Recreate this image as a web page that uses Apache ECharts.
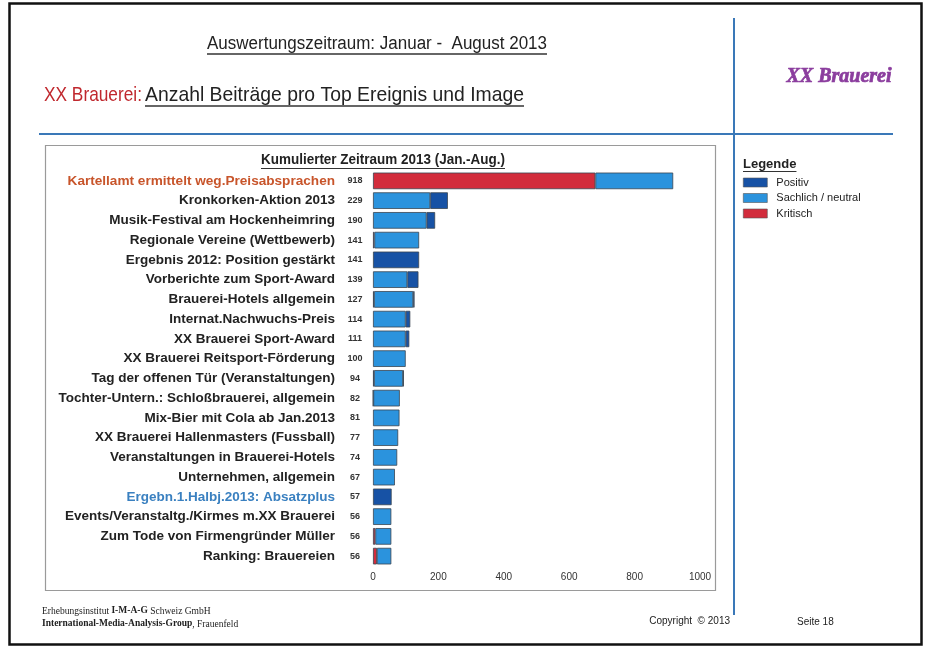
<!DOCTYPE html>
<html>
<head>
<meta charset="utf-8">
<script src="https://cdn.jsdelivr.net/npm/echarts@6/dist/echarts.min.js"></script>
<style>
html,body{margin:0;padding:0;background:#fff;}
#main{width:927px;height:646px;}
</style>
</head>
<body>
<div id="main"></div>
<script>
var categories = [
  'Kartellamt ermittelt weg.Preisabsprachen',
  'Kronkorken-Aktion 2013',
  'Musik-Festival am Hockenheimring',
  'Regionale Vereine (Wettbewerb)',
  'Ergebnis 2012: Position gestärkt',
  'Vorberichte zum Sport-Award',
  'Brauerei-Hotels allgemein',
  'Internat.Nachwuchs-Preis',
  'XX Brauerei Sport-Award',
  'XX Brauerei Reitsport-Förderung',
  'Tag der offenen Tür (Veranstaltungen)',
  'Tochter-Untern.: Schloßbrauerei, allgemein',
  'Mix-Bier mit Cola ab Jan.2013',
  'XX Brauerei Hallenmasters (Fussball)',
  'Veranstaltungen in Brauerei-Hotels',
  'Unternehmen, allgemein',
  'Ergebn.1.Halbj.2013: Absatzplus',
  'Events/Veranstaltg./Kirmes m.XX Brauerei',
  'Zum Tode von Firmengründer Müller',
  'Ranking: Brauereien'
];
var totals   = [918, 229, 190, 141, 141, 139, 127, 114, 111, 100, 94, 82, 81, 77, 74, 67, 57, 56, 56, 56];
var kritisch = [680,   0,   0,   4,   0,   0,   3,   0,   0,   0,  3,  1,  0,  0,  0,  0,  0,  0,  7, 12];
var neutral  = [238, 175, 164, 137,   0, 105, 120, 100, 100, 100, 89, 81, 81, 77, 74, 67,  0, 56, 49, 44];
var positiv  = [  0,  54,  26,   0, 141,  34,   4,  14,  11,   0,  2,  0,  0,  0,  0,  0, 57,  0,  0,  0];
var xTicks = [0, 200, 400, 600, 800, 1000];
var seriesNames = ['Kritisch', 'Sachlich / neutral', 'Positiv'];
var legendOrder = ['Positiv', 'Sachlich / neutral', 'Kritisch'];

var colors = {'Kritisch':'#d22c3c','Sachlich / neutral':'#2b93dd','Positiv':'#1752a5'};
var SANS = '"Liberation Sans", Arial, sans-serif';
var SERIF = '"Liberation Serif", "Times New Roman", serif';

var mctx = document.createElement('canvas').getContext('2d');
function tw(text, font){ mctx.font = font; return mctx.measureText(text).width; }

function nz(arr){ return arr.map(function(v){ return v === 0 ? '-' : v; }); }

var chart = echarts.init(document.getElementById('main'), null, {renderer:'canvas'});

// condensed text helper: fit text into a target width by horizontal scaling
function fitText(text, font, x, y, targetW, fill, align){
  var w = tw(text, font);
  return {type:'text', x:x, y:y, scaleX: targetW / w, scaleY:1,
    style:{text:text, font:font, fill:fill, textAlign:align || 'left', textVerticalAlign:'middle'}};
}

var t1 = 'Auswertungszeitraum: Januar -  August 2013';
var t2a = 'XX Brauerei:';
var t2b = 'Anzahl Beiträge pro Top Ereignis und Image';
var sub = 'Kumulierter Zeitraum 2013 (Jan.-Aug.)';
var legFont = 'bold 13px ' + SANS;
var legw = tw('Legende', legFont);

var graphics = [
  {type:'rect', shape:{x:9.5, y:3.5, width:912, height:641}, style:{fill:'none', stroke:'#111', lineWidth:2.5}, silent:true},
  {type:'line', shape:{x1:39, y1:134, x2:893, y2:134}, style:{stroke:'#3a78b8', lineWidth:2}, silent:true},
  {type:'line', shape:{x1:734, y1:18, x2:734, y2:615}, style:{stroke:'#3a78b8', lineWidth:2}, silent:true},
  {type:'rect', shape:{x:45.5, y:145.5, width:670, height:445}, style:{fill:'none', stroke:'#9a9a9a', lineWidth:1.2}, silent:true},
  fitText(t1, '18px ' + SANS, 207, 44, 340, '#222', 'left'),
  {type:'line', shape:{x1:207, y1:54, x2:547, y2:54}, style:{stroke:'#333', lineWidth:1.3}},
  fitText(t2a, '21px ' + SANS, 44, 95, 98, '#c0282e', 'left'),
  fitText(t2b, '21px ' + SANS, 145, 95, 379, '#222', 'left'),
  {type:'line', shape:{x1:145, y1:106, x2:524, y2:106}, style:{stroke:'#333', lineWidth:1.5}},
  {type:'text', x:839, y:77, style:{text:'XX Brauerei', font:'italic bold 20px ' + SERIF, fill:'#8b3d9e', stroke:'#8b3d9e', lineWidth:0.7, textAlign:'center', textVerticalAlign:'middle'}},
  fitText(sub, 'bold 14px ' + SANS, 261, 160, 244, '#222', 'left'),
  {type:'line', shape:{x1:261, y1:168.5, x2:505, y2:168.5}, style:{stroke:'#333', lineWidth:1.1}},
  {type:'text', x:743, y:164, style:{text:'Legende', font:legFont, fill:'#222', textAlign:'left', textVerticalAlign:'middle'}},
  {type:'line', shape:{x1:743, y1:171.5, x2:743 + legw, y2:171.5}, style:{stroke:'#333', lineWidth:1.1}},
  {type:'text', x:42, y:611, style:{
    text:'{n|Erhebungsinstitut }{b|I-M-A-G}{n| Schweiz GmbH}', textAlign:'left', textVerticalAlign:'middle',
    rich:{n:{fontFamily:SERIF, fontSize:9.5, fill:'#222'}, b:{fontFamily:SERIF, fontSize:9.5, fontWeight:'bold', fill:'#222'}}
  }},
  {type:'text', x:42, y:624, style:{
    text:'{b|International-Media-Analysis-Group}{n|, Frauenfeld}', textAlign:'left', textVerticalAlign:'middle',
    rich:{n:{fontFamily:SERIF, fontSize:9.5, fill:'#222'}, b:{fontFamily:SERIF, fontSize:9.5, fontWeight:'bold', fill:'#222'}}
  }},
  {type:'text', x:730, y:621, style:{text:'Copyright  \u00a9 2013', font:'10px ' + SANS, fill:'#222', textAlign:'right', textVerticalAlign:'middle'}},
  {type:'text', x:797, y:622, style:{text:'Seite 18', font:'10px ' + SANS, fill:'#222', textAlign:'left', textVerticalAlign:'middle'}}
];

var seriesData = {'Kritisch':kritisch, 'Sachlich / neutral':neutral, 'Positiv':positiv};

var option = {
  animation:false,
  backgroundColor:'#fff',
  grid:{left:373, right:227, top:171, bottom:80, containLabel:false},
  legend:{
    data:legendOrder, orient:'vertical', left:743, top:177, padding:0, itemWidth:24, itemHeight:9, itemGap:4.5,
    icon:'rect', selectedMode:false,
    itemStyle:{borderWidth:0.6, borderColor:'#555'},
    textStyle:{fontSize:11, fontFamily:SANS, color:'#222', padding:[0,0,0,4]}
  },
  xAxis:{
    type:'value', min:xTicks[0], max:xTicks[xTicks.length-1], interval:xTicks[1]-xTicks[0],
    axisLine:{show:false}, axisTick:{show:false}, splitLine:{show:false},
    axisLabel:{fontSize:10, color:'#333', fontFamily:SANS, margin:6, formatter:function(v){ return String(v); }}
  },
  yAxis:{
    type:'category', data:categories, inverse:true,
    axisLine:{show:false}, axisTick:{show:false}, splitLine:{show:false},
    axisLabel:{
      margin:7, align:'right', interval:0,
      formatter:function(value, idx){
        var k = 'n';
        if (idx === 0) k = 'o';
        else if (value.indexOf('Ergebn.1.') === 0) k = 'b';
        return '{' + k + '|' + value + '}{v|' + totals[idx] + '}';
      },
      rich:{
        n:{fontSize:13.5, fontWeight:'bold', fontFamily:SANS, color:'#222', padding:[0,9,0,0]},
        o:{fontSize:13.6, fontWeight:'bold', fontFamily:SANS, color:'#c8552b', padding:[0,9,0,0]},
        b:{fontSize:13.5, fontWeight:'bold', fontFamily:SANS, color:'#3a80c0', padding:[0,9,0,0]},
        v:{fontSize:9, fontWeight:'bold', fontFamily:SANS, color:'#333', width:22, align:'left'}
      }
    }
  },
  series: seriesNames.map(function(name){
    return {
      name:name, type:'bar', stack:'total', barWidth:'84%',
      data:nz(seriesData[name]),
      itemStyle:{color:colors[name], borderColor:'#3a4552', borderWidth:0.8}
    };
  }),
  graphic:graphics
};
chart.setOption(option);
</script>
</body>
</html>
